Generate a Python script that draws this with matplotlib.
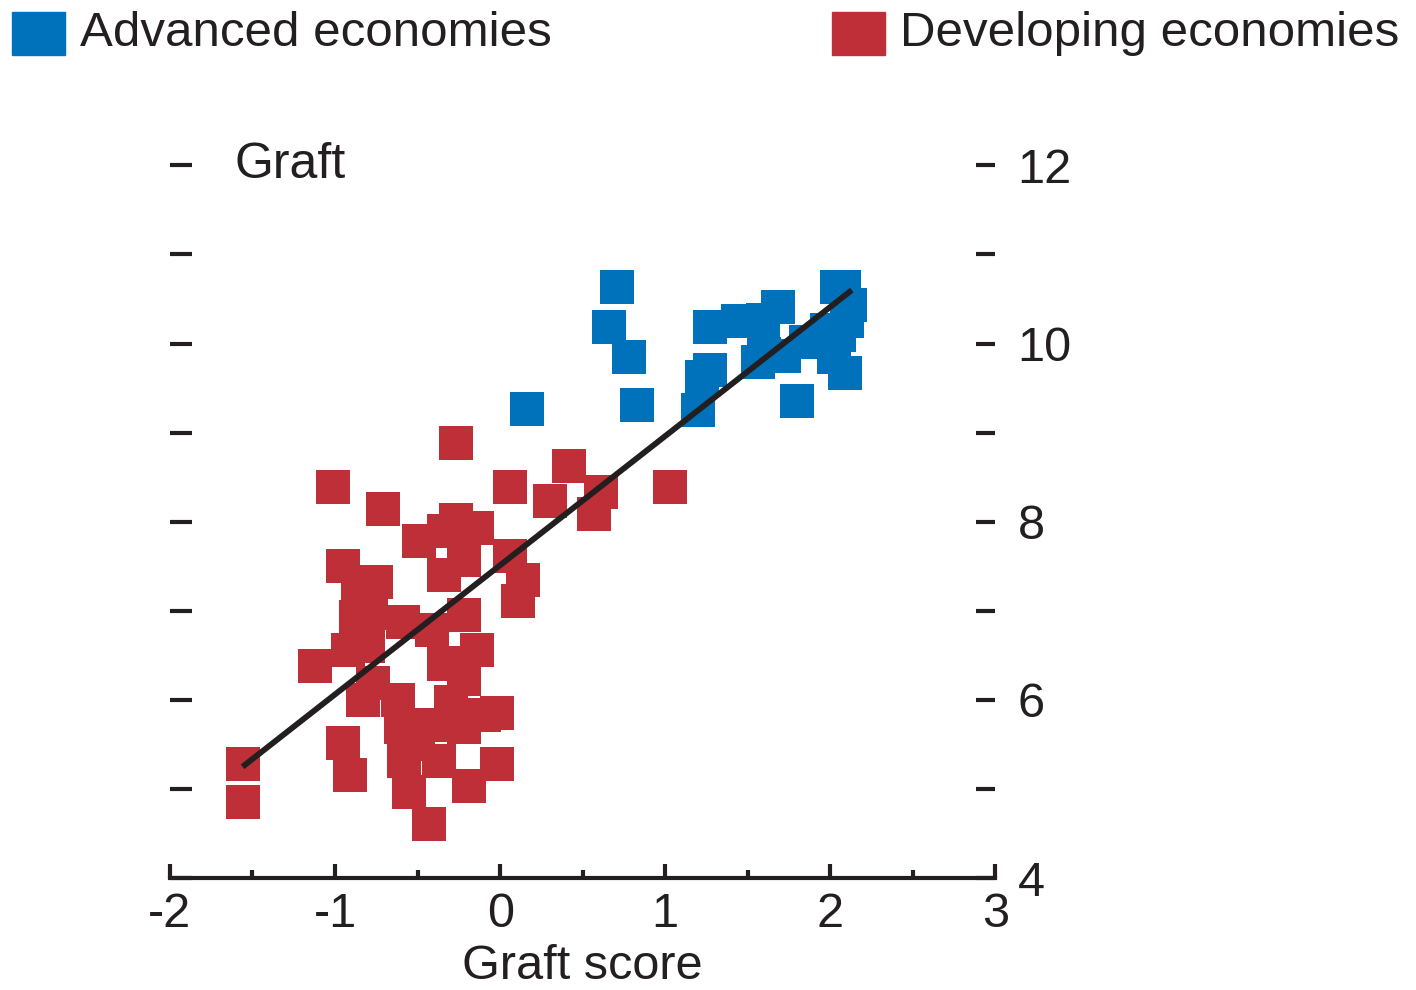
import numpy as np
import matplotlib
matplotlib.use("Agg")
import matplotlib.pyplot as plt
from matplotlib.patches import Rectangle

plt.rcParams['font.family'] = ['Liberation Sans', 'DejaVu Sans']

# data
adv_x = [0.71, 0.66, 0.78, 0.16, 0.83, 1.22, 1.27, 1.20, 1.27, 1.44, 1.68, 1.59, 1.60,
         1.56, 1.72, 1.80, 2.04, 2.08, 2.12, 1.85, 1.98, 2.05, 2.02, 2.09, 2.10]
adv_y = [10.64, 10.19, 9.85, 9.27, 9.31, 9.62, 9.70, 9.25, 10.19, 10.25, 10.41, 10.26, 9.88,
         9.79, 9.86, 9.36, 10.64, 10.64, 10.43, 10.02, 10.15, 10.10, 9.85, 9.67, 10.25]

dev_x = [-0.27, -1.01, -0.71, 0.06, 0.42, 1.03, 0.30, 0.61, 0.57, -0.49, -0.27, -0.34,
         -0.14, -0.22, 0.06, -0.34, 0.14, 0.11, -0.95, -0.75, -0.86, -0.87, -0.78, -0.59,
         -0.22, -0.41, -0.92, -0.80, -1.12, -0.14, -0.34, -0.22, -0.22, -0.77, -0.83, -0.62,
         -0.30, -0.10, -0.02, -0.60, -0.42, -0.22, -0.50, -0.58, -0.37, -0.95, -0.02, -1.56,
         -1.56, -0.91, -0.55, -0.19, -0.43]
dev_y = [8.88, 8.39, 8.14, 8.39, 8.62, 8.39, 8.23, 8.33, 8.09, 7.78, 8.02, 7.90,
         7.93, 7.57, 7.62, 7.40, 7.35, 7.11, 7.50, 7.32, 7.29, 6.93, 6.98, 6.87,
         6.95, 6.78, 6.56, 6.60, 6.38, 6.56, 6.40, 6.42, 6.24, 6.19, 6.00, 6.00,
         5.98, 5.83, 5.85, 5.70, 5.72, 5.70, 5.50, 5.32, 5.32, 5.52, 5.28, 5.28,
         4.85, 5.16, 4.97, 5.03, 4.61]

fit_x = [-1.56, 2.13]
fit_y = [5.25, 10.60]

x_ticks = [-2, -1, 0, 1, 2, 3]
y_labels = [4, 6, 8, 10, 12]

blue = "#0072BC"
red = "#BE2F38"
ink = "#231F20"

fig = plt.figure(figsize=(14.16, 9.9), dpi=100)
ax = fig.add_axes([0.120, 0.113, 0.583, 0.720])

ax.scatter(dev_x, dev_y, marker='s', s=24 ** 2, color=red, linewidths=0, zorder=2)
ax.scatter(adv_x, adv_y, marker='s', s=24 ** 2, color=blue, linewidths=0, zorder=2)
ax.plot(fit_x, fit_y, color=ink, lw=4.2, zorder=3, solid_capstyle='butt')

ax.set_xlim(-2, 3)
ax.set_ylim(4, 12)
for s in ['top', 'right', 'left']:
    ax.spines[s].set_visible(False)
ax.spines['bottom'].set_linewidth(3)
ax.spines['bottom'].set_color(ink)

ax.set_xticks(x_ticks)
ax.set_xticks(np.arange(-1.5, 3, 1), minor=True)
ax.tick_params(axis='x', which='major', direction='in', length=10, width=3, color=ink,
               labelsize=35, pad=10, labelcolor=ink)
ax.tick_params(axis='x', which='minor', direction='in', length=6, width=3, color=ink)
ax.set_xticklabels([str(t) for t in x_ticks])

ax.set_yticks(range(4, 13))
ax.tick_params(axis='y', which='major', direction='in', length=16, width=3, color=ink,
               left=True, labelleft=False)

ax2 = ax.twinx()
ax2.set_ylim(4, 12)
for s in ax2.spines.values():
    s.set_visible(False)
ax2.set_yticks(range(4, 13))
ax2.set_yticklabels([str(v) if v in y_labels else '' for v in range(4, 13)])
ax2.tick_params(axis='y', direction='in', length=14, width=3, color=ink,
                labelsize=35, pad=16, labelcolor=ink)

ax.set_xlabel("Graft score", fontsize=35, color=ink, labelpad=5)
ax.text(-1.61, 12, "Graft", fontsize=36, color=ink, ha='left', va='center')

# legend across the top
fig.patches.append(Rectangle((12 / 1416, 1 - 55 / 990), 53 / 1416, 43 / 990,
                             transform=fig.transFigure, color=blue))
fig.text(80 / 1416, 1 - 33 / 990, "Advanced economies", fontsize=35.5, color=ink,
         ha='left', va='center')
fig.patches.append(Rectangle((832 / 1416, 1 - 55 / 990), 53 / 1416, 43 / 990,
                             transform=fig.transFigure, color=red))
fig.text(900 / 1416, 1 - 33 / 990, "Developing economies", fontsize=35.5, color=ink,
         ha='left', va='center')

fig.savefig("out.png", dpi=100)
